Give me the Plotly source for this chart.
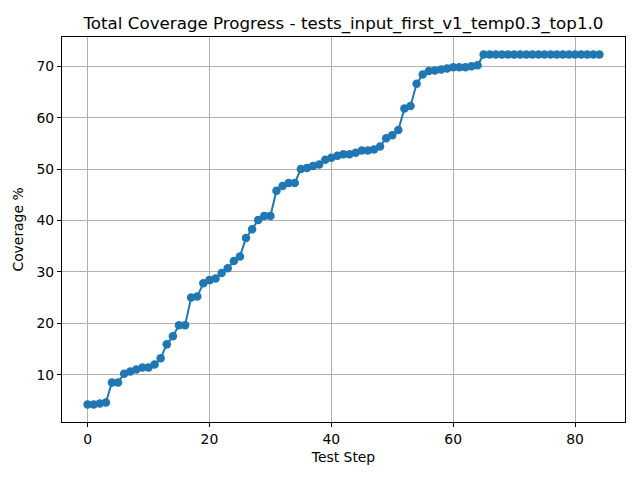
import plotly.graph_objects as go

# coverage % after each test step
steps = list(range(85))
coverage = [
    4.2, 4.2, 4.4, 4.6, 8.5, 8.5, 10.2, 10.6, 11.0, 11.4,
    11.4, 12.0, 13.2, 15.9, 17.5, 19.6, 19.6, 25.0, 25.2, 27.8,
    28.4, 28.7, 29.8, 30.7, 32.1, 33.0, 36.6, 38.3, 40.1, 40.9,
    40.9, 45.8, 46.7, 47.3, 47.3, 50.0, 50.2, 50.6, 50.9, 51.8,
    52.2, 52.6, 52.9, 52.9, 53.2, 53.6, 53.6, 53.8, 54.4, 56.0,
    56.6, 57.6, 61.8, 62.3, 66.6, 68.4, 69.1, 69.2, 69.4, 69.6,
    69.8, 69.8, 69.8, 70.0, 70.2, 72.3, 72.3, 72.3, 72.3, 72.3,
    72.3, 72.3, 72.3, 72.3, 72.3, 72.3, 72.3, 72.3, 72.3, 72.3,
    72.3, 72.3, 72.3, 72.3, 72.3,
]
x_ticks = [0, 20, 40, 60, 80]
y_ticks = [10, 20, 30, 40, 50, 60, 70]

blue = "#1f77b4"

fig = go.Figure()
fig.add_trace(go.Scatter(
    x=steps, y=coverage, mode="lines+markers",
    line=dict(color=blue, width=2),
    marker=dict(color=blue, size=8.5),
))

# matplotlib-like 5% margins
span_x = steps[-1] - steps[0]
span_y = max(coverage) - min(coverage)
axis_style = dict(
    showline=True, linecolor="black", linewidth=1, mirror=True,
    showgrid=True, gridcolor="#b0b0b0", gridwidth=1,
    ticks="outside", ticklen=4, tickcolor="black",
    zeroline=False, tickfont=dict(size=13.9, color="black"),
    automargin=False,
)

# page body has an 8px margin, so the figure is sized/offset for that
fig.update_layout(
    width=624, height=464,
    paper_bgcolor="white", plot_bgcolor="white",
    font=dict(family="DejaVu Sans", color="black"),
    margin=dict(l=54, r=7, t=29, b=50, autoexpand=False),
    showlegend=False,
    title=dict(text="Total Coverage Progress - tests_input_first_v1_temp0.3_top1.0",
               xref="paper", x=0.5, xanchor="center",
               yref="container", y=1 - 15 / 464, yanchor="middle",
               font=dict(size=16.7)),
    xaxis=dict(range=[steps[0] - 0.05 * span_x, steps[-1] + 0.05 * span_x],
               tickvals=x_ticks,
               title=dict(text="Test Step", font=dict(size=13.9), standoff=6),
               **axis_style),
    yaxis=dict(range=[min(coverage) - 0.05 * span_y, max(coverage) + 0.05 * span_y],
               tickvals=y_ticks,
               title=dict(text="Coverage %", font=dict(size=13.9), standoff=9),
               **axis_style),
)

fig.write_html("out.html")
